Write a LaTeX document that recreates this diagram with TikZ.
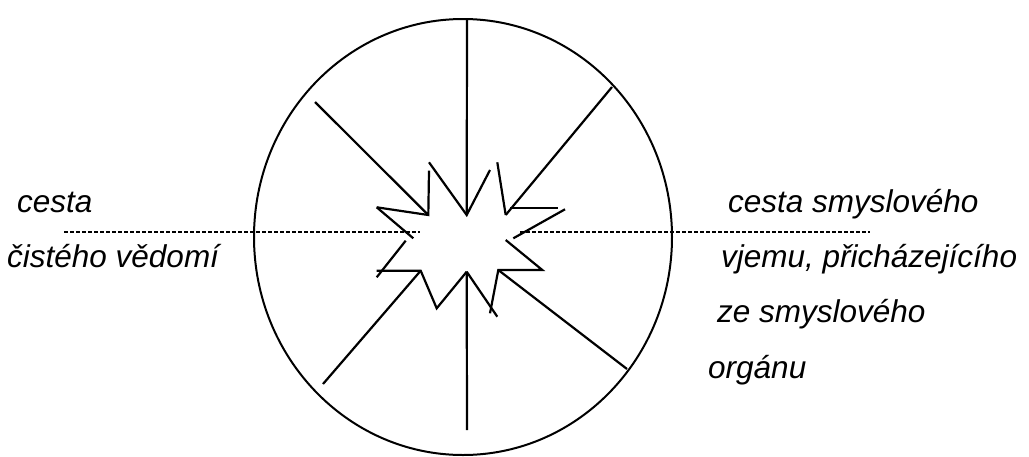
\documentclass[tikz,border=0pt]{standalone}
\usepackage{fontspec}
\setmainfont{Liberation Sans}
\begin{document}
\begin{tikzpicture}[x=1pt,y=-1pt,
  rim/.style={line width=2pt},
  ray/.style={line width=2.2pt},
  burst/.style={line width=2.2pt,line join=miter},
  dashline/.style={line width=1.1pt,dash pattern=on 4pt off 2pt},
  lbl/.style={anchor=base west,inner sep=0pt,font=\fontsize{31.5}{37}\selectfont\itshape}]
\useasboundingbox (0,0) rectangle (1029,456);
% rim
\coordinate (c) at (463,237);
\draw[rim] (c) ellipse [x radius=209, y radius=218];
% dashed axis
\coordinate (dl1) at (64,232);
\coordinate (dl2) at (420,232);
\coordinate (dr1) at (520,232);
\coordinate (dr2) at (870,232);
\draw[dashline] (dl1) -- (dl2);
\draw[dashline] (dr1) -- (dr2);
% burst vertices
\coordinate (b1) at (376.7,207.3);
\coordinate (b2) at (428.3,215);
\coordinate (b3) at (429,170.7);
\coordinate (b4) at (429,162.3);
\coordinate (b5) at (466.7,215);
\coordinate (b6) at (490,170);
\coordinate (b7) at (497.3,162.3);
\coordinate (b8) at (505.7,215);
\coordinate (b9) at (510,208.3);
\coordinate (b10) at (557.7,208.3);
\coordinate (b11) at (565,209.3);
\coordinate (b12) at (513.3,238.3);
\coordinate (b13) at (505.7,240);
\coordinate (b14) at (542.3,270);
\coordinate (b15) at (498.3,270);
\coordinate (b16) at (490,313.3);
\coordinate (b17) at (466.7,271.7);
\coordinate (b18) at (497.3,316.7);
\coordinate (b19) at (436.7,308.3);
\coordinate (b20) at (420.7,270.7);
\coordinate (b21) at (376.7,270.7);
\coordinate (b22) at (376.7,277.3);
\coordinate (b23) at (405.7,240.7);
\coordinate (b24) at (413.3,238.3);
\draw[burst] (b1) -- (b2) -- (b3);
\draw[burst] (b4) -- (b5) -- (b6);
\draw[burst] (b7) -- (b8);
\draw[burst] (b9) -- (b10);
\draw[burst] (b11) -- (b12);
\draw[burst] (b13) -- (b14) -- (b15) -- (b16);
\draw[burst] (b17) -- (b18);
\draw[burst] (b17) -- (b19) -- (b20) -- (b21);
\draw[burst] (b22) -- (b23);
\draw[burst] (b24) -- (b1);
% rays
\coordinate (r1) at (467,19);
\coordinate (r2) at (315,102);
\coordinate (r3) at (612,87);
\coordinate (r4) at (323,384);
\coordinate (r5) at (627,369);
\coordinate (r6) at (467,430);
\draw[ray] (r1) -- (b5);
\draw[ray] (r2) -- (b2);
\draw[ray] (r3) -- (b8);
\draw[ray] (r4) -- (b20);
\draw[ray] (r5) -- (b15);
\draw[ray] (b17) -- (r6);
% labels
\node[lbl] (t1) at (17,212) {cesta};
\node[lbl] (t2) at (7,267) {čistého vědomí};
\node[lbl] (t3) at (728,212) {cesta smyslového};
\node[lbl] (t4) at (721,267) {vjemu, přicházejícího};
\node[lbl] (t5) at (717,322) {ze smyslového};
\node[lbl] (t6) at (708,378) {orgánu};
\end{tikzpicture}
\end{document}
